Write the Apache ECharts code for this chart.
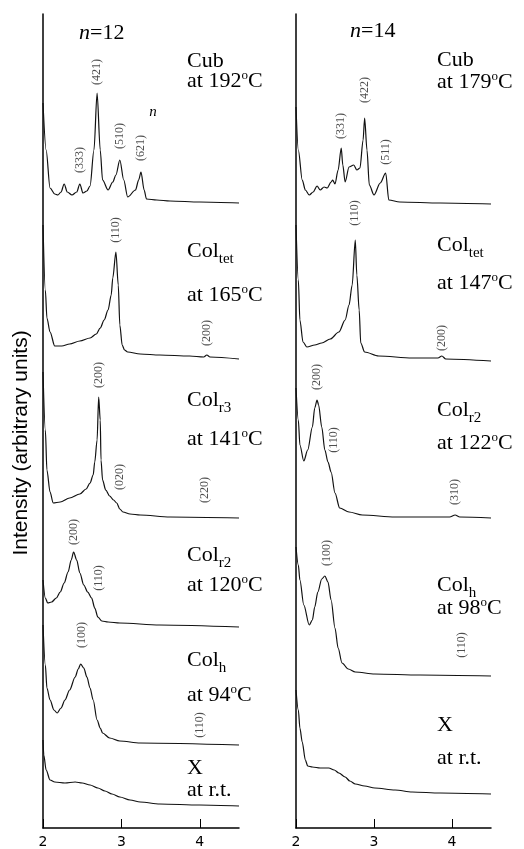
<!DOCTYPE html>
<html>
<head>
<meta charset="utf-8">
<style>
  html, body { margin: 0; padding: 0; background: #fff; }
  #chart { width: 524px; height: 849px; }
</style>
<script src="https://cdn.jsdelivr.net/npm/echarts@6/dist/echarts.min.js"></script>
</head>
<body>
<div id="chart"></div>
<script>
  // x = scattering vector, y = stacked intensity (arbitrary units)
  // n = 12
  const cub12 = [[2.00,725],[2.04,678],[2.09,640],[2.15,634],[2.19,633],[2.23,636],[2.27,644],[2.31,636],[2.37,633],[2.43,636],[2.47,644],[2.51,635],[2.56,637],[2.60,642],[2.65,678],[2.69,735],[2.73,678],[2.76,648],[2.83,638],[2.89,646],[2.93,653],[2.98,668],[3.03,648],[3.08,631],[3.18,638],[3.22,648],[3.25,656],[3.29,638],[3.32,629],[3.45,628],[3.62,627],[4.00,626],[4.50,625]]
  const colTet12 = [[2.00,603],[2.03,538],[2.05,510],[2.09,496],[2.15,482],[2.24,482],[2.34,484],[2.47,487],[2.60,490],[2.68,494],[2.73,500],[2.78,508],[2.83,518],[2.87,533],[2.89,550],[2.93,576],[2.96,543],[2.98,503],[3.01,483],[3.04,478],[3.08,476],[3.24,474],[3.49,473],[3.87,472],[4.05,471],[4.09,473],[4.13,471],[4.50,469]]
  const colR3_12 = [[2.00,456],[2.03,398],[2.05,358],[2.09,336],[2.13,325],[2.22,326],[2.34,330],[2.47,334],[2.55,339],[2.60,345],[2.64,353],[2.66,366],[2.69,388],[2.71,431],[2.73,408],[2.74,368],[2.76,348],[2.80,338],[2.85,332],[2.90,328],[2.94,325],[2.98,319],[3.02,316],[3.11,314],[3.24,313],[3.62,311],[4.50,310]]
  const colR2_12 = [[2.00,248],[2.03,230],[2.06,225],[2.11,226],[2.17,230],[2.22,236],[2.27,245],[2.32,256],[2.36,268],[2.39,276],[2.43,268],[2.47,255],[2.52,243],[2.57,236],[2.62,230],[2.66,220],[2.70,211],[2.75,207],[2.83,206],[2.98,205],[3.49,203],[4.50,201]]
  const colH12 = [[2.00,203],[2.03,163],[2.05,140],[2.09,128],[2.14,118],[2.18,115],[2.23,120],[2.28,128],[2.34,138],[2.41,151],[2.45,159],[2.48,164],[2.52,160],[2.56,151],[2.60,140],[2.64,128],[2.69,108],[2.73,100],[2.76,95],[2.85,90],[2.98,87],[3.24,85],[4.50,83]]
  const x12 = [[2.00,88],[2.01,73],[2.04,58],[2.09,48],[2.15,46],[2.28,45],[2.41,46],[2.50,45],[2.60,43],[2.70,40],[2.79,37],[2.88,34],[2.98,31],[3.11,28],[3.24,26],[3.49,24],[4.00,23],[4.50,22]]

  // n = 14
  const cub14 = [[2.00,721],[2.03,678],[2.08,648],[2.12,638],[2.17,633],[2.22,636],[2.27,642],[2.31,638],[2.36,641],[2.40,640],[2.45,646],[2.47,648],[2.50,644],[2.54,658],[2.58,680],[2.60,663],[2.63,646],[2.68,661],[2.74,663],[2.78,658],[2.82,660],[2.86,688],[2.88,710],[2.91,678],[2.94,643],[3.00,633],[3.08,645],[3.15,655],[3.19,628],[3.33,626],[3.85,625],[4.50,624]]
  const colTet14 = [[2.00,603],[2.03,548],[2.05,508],[2.09,486],[2.14,481],[2.24,483],[2.33,485],[2.44,489],[2.55,496],[2.63,508],[2.68,523],[2.72,543],[2.76,588],[2.78,553],[2.81,518],[2.83,485],[2.88,476],[3.06,472],[3.49,470],[3.82,470],[3.87,472],[3.92,469],[4.50,467]]
  const colR2_14 = [[2.00,440],[2.03,408],[2.05,383],[2.10,367],[2.15,378],[2.21,401],[2.24,420],[2.27,428],[2.29,423],[2.33,401],[2.37,378],[2.41,366],[2.45,356],[2.50,335],[2.56,320],[2.68,316],[2.85,313],[3.27,311],[3.97,311],[4.04,313],[4.10,311],[4.50,310]]
  const colH14 = [[2.00,281],[2.03,263],[2.05,248],[2.10,223],[2.17,203],[2.21,208],[2.24,221],[2.28,236],[2.33,249],[2.37,252],[2.41,246],[2.45,228],[2.50,200],[2.54,180],[2.59,165],[2.67,159],[2.76,156],[3.01,154],[3.59,153],[4.50,152]]
  const x14 = [[2.00,138],[2.03,118],[2.05,100],[2.08,86],[2.12,68],[2.15,62],[2.21,61],[2.31,60],[2.42,60],[2.49,58],[2.55,55],[2.63,51],[2.69,47],[2.76,44],[2.88,42],[3.01,40],[3.27,38],[3.49,36],[3.85,35],[4.50,34]]

  // reflection indices: [x, y, text]
  const peaks12 = [[2.47,668,'(333)'],[2.69,756,'(421)'],[2.98,692,'(510)'],[3.25,680,'(621)'],[2.93,598,'(110)'],[4.09,495,'(200)'],[2.71,453,'(200)'],[2.98,351,'(020)'],[4.06,338,'(220)'],[2.39,296,'(200)'],[2.71,250,'(110)'],[2.50,193,'(100)'],[4.00,103,'(110)']]
  const peaks14 = [[2.58,702,'(331)'],[2.88,738,'(422)'],[3.15,676,'(511)'],[2.76,615,'(110)'],[3.87,490,'(200)'],[2.27,451,'(200)'],[2.49,388,'(110)'],[4.04,336,'(310)'],[2.40,275,'(100)'],[4.12,183,'(110)']]

  const xTicks = [2, 3, 4]

  const serif = "'Liberation Serif', 'Times New Roman', serif"
  const sans = "'Liberation Sans', Arial, sans-serif"

  const richName = {
    m: { fontSize: 22, fontFamily: serif, lineHeight: 32, verticalAlign: 'middle', fill: '#000' },
    s: { fontSize: 15, fontFamily: serif, lineHeight: 14, verticalAlign: 'bottom', fill: '#000' }
  }
  const richTemp = {
    m: { fontSize: 22, fontFamily: serif, lineHeight: 24, verticalAlign: 'middle', fill: '#000' },
    o: { fontSize: 13, fontFamily: serif, lineHeight: 14, verticalAlign: 'top', fill: '#000' },
    i: { fontSize: 22, fontFamily: serif, fontStyle: 'italic', lineHeight: 24, verticalAlign: 'middle', fill: '#000' }
  }

  // phase names: [x, y, text, rich]
  const phaseText = [
    [187, 61, '{m|Cub}', richName],
    [187, 81, '{m|at 192}{o|o}{m|C}', richTemp],
    [187, 251, '{m|Col}{s|tet}', richName],
    [187, 295, '{m|at 165}{o|o}{m|C}', richTemp],
    [187, 400, '{m|Col}{s|r3}', richName],
    [187, 439, '{m|at 141}{o|o}{m|C}', richTemp],
    [187, 555, '{m|Col}{s|r2}', richName],
    [187, 585, '{m|at 120}{o|o}{m|C}', richTemp],
    [187, 660, '{m|Col}{s|h}', richName],
    [187, 695, '{m|at 94}{o|o}{m|C}', richTemp],
    [187, 768, '{m|X}', richName],
    [187, 790, '{m|at r.t.}', richTemp],
    [437, 60, '{m|Cub}', richName],
    [437, 82, '{m|at 179}{o|o}{m|C}', richTemp],
    [437, 245, '{m|Col}{s|tet}', richName],
    [437, 283, '{m|at 147}{o|o}{m|C}', richTemp],
    [437, 410, '{m|Col}{s|r2}', richName],
    [437, 443, '{m|at 122}{o|o}{m|C}', richTemp],
    [437, 585, '{m|Col}{s|h}', richName],
    [437, 608, '{m|at 98}{o|o}{m|C}', richTemp],
    [437, 725, '{m|X}', richName],
    [437, 758, '{m|at r.t.}', richTemp],
    [79, 33, '{i|n}{m|=12}', richTemp],
    [350, 31, '{i|n}{m|=14}', richTemp]
  ]

  const chart = echarts.init(document.getElementById('chart'))

  const xAxisBase = {
    type: 'value',
    min: 2,
    max: 4.5,
    interval: 1,
    axisLine: { lineStyle: { color: '#000', width: 1.5 } },
    axisTick: { inside: true, length: 9, customValues: xTicks, lineStyle: { color: '#000', width: 1 } },
    axisLabel: { customValues: xTicks, color: '#000', fontSize: 14, fontFamily: "'DejaVu Sans', sans-serif", margin: 7 },
    splitLine: { show: false }
  }
  const yAxisBase = {
    type: 'value',
    min: 0,
    max: 814,
    axisLine: { show: true, lineStyle: { color: '#000', width: 1.5 } },
    axisTick: { show: false },
    axisLabel: { show: false },
    splitLine: { show: false }
  }

  function trace(data, idx) {
    return {
      type: 'line',
      xAxisIndex: idx,
      yAxisIndex: idx,
      data,
      showSymbol: false,
      smooth: 0.3,
      smoothMonotone: 'x',
      lineStyle: { color: '#111', width: 1.2 },
      silent: true,
      animation: false
    }
  }

  function peakLabels(data, idx) {
    return {
      type: 'scatter',
      xAxisIndex: idx,
      yAxisIndex: idx,
      data,
      symbolSize: 1,
      itemStyle: { color: 'rgba(0,0,0,0)' },
      label: {
        show: true,
        position: 'inside',
        rotate: 90,
        formatter: (p) => p.value[2],
        color: '#222',
        fontSize: 12,
        fontFamily: serif
      },
      silent: true,
      animation: false
    }
  }

  const graphic = phaseText.map((t) => ({
    type: 'text',
    x: t[0],
    y: t[1],
    style: { text: t[2], rich: t[3], align: 'left', verticalAlign: 'middle', fill: '#000' }
  }))
  graphic.push({
    type: 'text',
    x: 21,
    y: 443,
    rotation: Math.PI / 2,
    style: {
      text: 'Intensity (arbitrary units)',
      font: '21px ' + sans,
      fill: '#000',
      align: 'center',
      verticalAlign: 'middle'
    }
  })
  // stray italic mark next to the n = 12 cubic pattern
  graphic.push({
    type: 'text',
    x: 153,
    y: 112,
    style: { text: 'n', font: 'italic 15px ' + serif, fill: '#000', align: 'center', verticalAlign: 'middle' }
  })

  chart.setOption({
    animation: false,
    backgroundColor: '#fff',
    grid: [
      { left: 43, top: 14, width: 196, height: 814 },
      { left: 296, top: 14, width: 195, height: 814 }
    ],
    xAxis: [
      Object.assign({ gridIndex: 0 }, xAxisBase),
      Object.assign({ gridIndex: 1 }, xAxisBase)
    ],
    yAxis: [
      Object.assign({ gridIndex: 0 }, yAxisBase),
      Object.assign({ gridIndex: 1 }, yAxisBase)
    ],
    series: [
      trace(cub12, 0),
      trace(colTet12, 0),
      trace(colR3_12, 0),
      trace(colR2_12, 0),
      trace(colH12, 0),
      trace(x12, 0),
      trace(cub14, 1),
      trace(colTet14, 1),
      trace(colR2_14, 1),
      trace(colH14, 1),
      trace(x14, 1),
      peakLabels(peaks12, 0),
      peakLabels(peaks14, 1)
    ],
    graphic
  })
</script>
</body>
</html>
